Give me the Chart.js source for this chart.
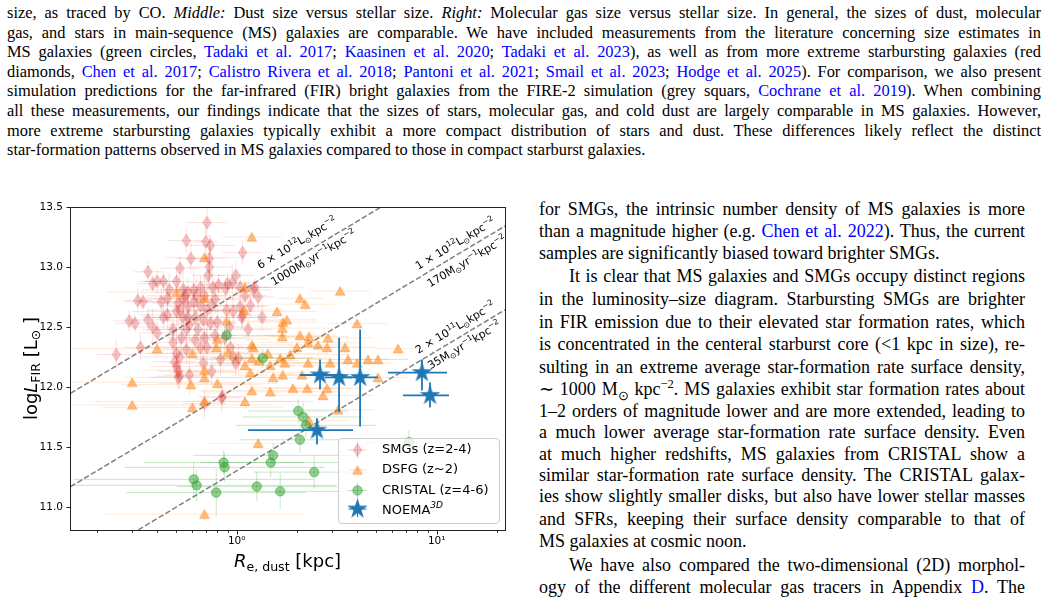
<!DOCTYPE html>
<html>
<head>
<meta charset="utf-8">
<script src="https://cdn.jsdelivr.net/npm/chart.js@4.4.1/dist/chart.umd.min.js"></script>
<style>
html, body { margin: 0; padding: 0; background: #fff; }
body { width: 1058px; height: 597px; overflow: hidden; position: relative; font-family: "Liberation Serif", "Times New Roman", serif; color: #000; }
.cap { position: absolute; left: 7px; width: 1034px; height: 20px; font-size: 16.4px; line-height: 20px; white-space: nowrap; text-align: justify; text-align-last: justify; }
.bd { position: absolute; left: 539px; width: 486px; height: 22px; font-size: 18px; line-height: 22px; white-space: nowrap; text-align: justify; text-align-last: justify; }
.last { text-align-last: left; }
.ind { text-indent: 30px; }
.l { color: #0000ff; }
sup, sub { font-size: 70%; line-height: 0; }
#wrap { position: absolute; left: 0; top: 195px; width: 515px; height: 402px; }
</style>
</head>
<body>
<div class="cap" style="top:3px">size, as traced by CO. <i>Middle:</i> Dust size versus stellar size. <i>Right:</i> Molecular gas size versus stellar size. In general, the sizes of dust, molecular</div>
<div class="cap" style="top:22.6px">gas, and stars in main-sequence (MS) galaxies are comparable. We have included measurements from the literature concerning size estimates in</div>
<div class="cap" style="top:42.2px">MS galaxies (green circles, <span class="l">Tadaki et al. 2017</span>; <span class="l">Kaasinen et al. 2020</span>; <span class="l">Tadaki et al. 2023</span>), as well as from more extreme starbursting galaxies (red</div>
<div class="cap" style="top:61.8px">diamonds, <span class="l">Chen et al. 2017</span>; <span class="l">Calistro Rivera et al. 2018</span>; <span class="l">Pantoni et al. 2021</span>; <span class="l">Smail et al. 2023</span>; <span class="l">Hodge et al. 2025</span>). For comparison, we also present</div>
<div class="cap" style="top:81.4px">simulation predictions for the far-infrared (FIR) bright galaxies from the FIRE-2 simulation (grey squars, <span class="l">Cochrane et al. 2019</span>). When combining</div>
<div class="cap" style="top:101px">all these measurements, our findings indicate that the sizes of stars, molecular gas, and cold dust are largely comparable in MS galaxies. However,</div>
<div class="cap" style="top:120.6px">more extreme starbursting galaxies typically exhibit a more compact distribution of stars and dust. These differences likely reflect the distinct</div>
<div class="cap last" style="top:140.2px">star-formation patterns observed in MS galaxies compared to those in compact starburst galaxies.</div>

<div class="bd" style="top:198px">for SMGs, the intrinsic number density of MS galaxies is more</div>
<div class="bd" style="top:219.5px">than a magnitude higher (e.g. <span class="l">Chen et al. 2022</span>). Thus, the current</div>
<div class="bd last" style="top:242.3px">samples are significantly biased toward brighter SMGs.</div>
<div class="bd ind" style="top:264.7px">It is clear that MS galaxies and SMGs occupy distinct regions</div>
<div class="bd" style="top:288px">in the luminosity–size diagram. Starbursting SMGs are brighter</div>
<div class="bd" style="top:310.7px">in FIR emission due to their elevated star formation rates, which</div>
<div class="bd" style="top:333px">is concentrated in the centeral starburst core (&lt;1 kpc in size), re-</div>
<div class="bd" style="top:355.7px">sulting in an extreme average star-formation rate surface density,</div>
<div class="bd" style="top:378px">∼ 1000 M<sub>⊙</sub> kpc<sup>−2</sup>. MS galaxies exhibit star formation rates about</div>
<div class="bd" style="top:399.7px">1–2 orders of magnitude lower and are more extended, leading to</div>
<div class="bd" style="top:421.3px">a much lower average star-formation rate surface density. Even</div>
<div class="bd" style="top:443px">at much higher redshifts, MS galaxies from CRISTAL show a</div>
<div class="bd" style="top:464px">similar star-formation rate surface density. The CRISTAL galax-</div>
<div class="bd" style="top:485.3px">ies show slightly smaller disks, but also have lower stellar masses</div>
<div class="bd" style="top:508px">and SFRs, keeping their surface density comparable to that of</div>
<div class="bd last" style="top:529.7px">MS galaxies at cosmic noon.</div>
<div class="bd ind" style="top:554px">We have also compared the two-dimensional (2D) morphol-</div>
<div class="bd" style="top:576.3px">ogy of the different molecular gas tracers in Appendix <span class="l">D</span>. The</div>

<div id="wrap"><canvas id="chart" width="515" height="402"></canvas></div>

<script>
// SMGs (z=2-4): size [kpc], log L_FIR, errors
const smgR = [0.71,0.56,0.70,0.74,0.59,0.73,1.07,0.36,0.52,0.38,
  0.43,0.40,0.73,0.72,0.81,0.90,0.99,1.23,0.32,0.34,
  0.42,0.29,0.31,0.36,0.25,1.28,0.46,0.50,0.54,0.57,
  0.61,0.66,0.76,0.88,0.95,1.04,0.45,0.51,0.54,0.57,
  0.61,0.66,0.71,0.75,0.89,0.96,1.04,1.07,0.38,0.40,
  0.45,0.50,0.54,0.57,0.62,0.68,0.74,0.80,0.92,1.06,
  0.33,0.48,0.50,0.52,0.56,0.66,0.71,0.93,0.96,1.02,
  0.49,0.50,0.68,0.85,0.52,0.63,0.55,0.69,0.78,0.58,
  0.64,0.78,0.48,0.53,0.69,0.58,0.51,0.75,0.83,1.14,
  0.43,0.62,0.87,0.56,1.17,0.69,0.51,0.52,0.84,0.99,
  1.21,1.10,1.34];
const smgL = [13.37,13.22,13.21,13.18,13.07,13.07,13.12,12.96,12.99,12.86,
  12.88,12.88,13.00,12.93,12.85,12.86,12.93,12.83,12.72,12.71,
  12.71,12.55,12.53,12.56,12.27,12.75,12.81,12.88,12.81,12.79,
  12.81,12.83,12.83,12.82,12.87,12.83,12.74,12.70,12.73,12.67,
  12.71,12.68,12.64,12.68,12.64,12.63,12.67,12.60,12.50,12.45,
  12.60,12.63,12.58,12.58,12.58,12.56,12.53,12.54,12.50,12.58,
  12.33,12.37,12.28,12.25,12.31,12.33,12.33,12.33,12.25,12.24,
  12.21,12.17,12.20,11.92,12.64,12.76,12.76,12.76,12.73,12.52,
  12.48,12.43,12.48,12.41,12.41,12.10,12.08,12.13,12.23,12.48,
  12.58,12.39,12.41,12.48,12.68,11.86,12.13,12.09,11.91,12.20,
  12.81,12.76,12.58];
const smgXErrDex = [0.10,0.09,0.06,0.12,0.08,0.08,0.10,0.07,0.10,0.08,
  0.10,0.09,0.11,0.08,0.09,0.12,0.09,0.11,0.07,0.09,
  0.12,0.08,0.10,0.12,0.10,0.08,0.14,0.16,0.10,0.17,
  0.11,0.16,0.10,0.14,0.09,0.15,0.12,0.13,0.18,0.09,
  0.13,0.20,0.10,0.12,0.12,0.10,0.13,0.08,0.11,0.09,
  0.14,0.22,0.15,0.10,0.25,0.11,0.13,0.09,0.10,0.11,
  0.08,0.11,0.15,0.20,0.12,0.14,0.25,0.11,0.08,0.12,
  0.11,0.13,0.18,0.12,0.16,0.10,0.19,0.11,0.12,0.10,
  0.10,0.11,0.09,0.12,0.15,0.13,0.14,0.12,0.13,0.12,
  0.11,0.12,0.11,0.22,0.10,0.11,0.10,0.12,0.10,0.11,
  0.09,0.11,0.08];
const smgYErr = [0.12,0.10,0.15,0.08,0.12,0.20,0.10,0.08,0.10,0.07,
  0.09,0.10,0.18,0.12,0.10,0.09,0.11,0.08,0.10,0.07,
  0.12,0.09,0.08,0.10,0.12,0.10,0.14,0.11,0.16,0.12,
  0.18,0.10,0.13,0.09,0.15,0.11,0.12,0.20,0.14,0.10,
  0.16,0.12,0.22,0.11,0.10,0.13,0.09,0.12,0.15,0.10,
  0.12,0.18,0.14,0.16,0.10,0.20,0.12,0.14,0.10,0.09,
  0.11,0.13,0.18,0.15,0.12,0.10,0.20,0.11,0.10,0.12,
  0.14,0.16,0.10,0.08,0.12,0.15,0.10,0.18,0.12,0.14,
  0.20,0.12,0.10,0.15,0.12,0.16,0.10,0.12,0.14,0.10,
  0.09,0.12,0.11,0.15,0.10,0.12,0.14,0.10,0.12,0.10,
  0.08,0.10,0.12];

// DSFG (z~2)
const dsfgR = [1.19,0.69,0.50,0.69,1.10,1.09,0.89,0.80,0.79,0.90,
  1.19,1.19,1.10,0.60,0.40,0.69,0.69,0.59,0.80,0.30,
  1.29,0.69,0.30,0.60,1.10,1.19,0.69,1.28,3.29,2.07,
  2.20,1.59,1.70,1.78,1.69,1.69,4.00,2.07,2.30,2.55,
  2.86,2.83,2.27,2.00,1.85,1.65,1.47,1.21,3.48,3.60,
  4.00,4.54,5.09,6.41,2.93,1.52,1.70,1.91,2.25,2.83,
  5.09,1.43,2.27,2.70,3.21,1.47,2.30,1.17,2.12,1.74];
const dsfgL = [13.25,13.08,12.79,12.74,12.83,12.64,12.55,12.40,12.33,12.29,
  12.35,12.24,12.18,12.28,12.32,12.14,12.08,12.02,12.03,12.04,
  12.22,11.88,11.85,11.83,11.88,11.97,10.94,11.53,12.80,12.74,
  12.69,12.63,12.54,12.56,12.49,12.42,12.53,12.43,12.42,12.35,
  12.41,12.33,12.37,12.33,12.27,12.24,12.18,12.33,12.33,12.23,
  12.20,12.23,12.23,12.32,12.20,12.08,12.10,11.99,11.99,11.99,
  12.08,12.28,12.20,11.93,11.81,11.96,11.72,12.12,12.10,12.20];
const dsfgXErrDex = [0.15,0.20,0.35,0.25,0.30,0.20,0.30,0.25,0.40,0.20,
  0.20,0.35,0.25,0.30,0.45,0.30,0.40,0.35,0.30,0.60,
  0.20,0.55,0.70,0.45,0.30,0.25,0.50,0.25,0.15,0.12,
  0.15,0.20,0.18,0.15,0.25,0.20,0.15,0.18,0.20,0.15,
  0.22,0.18,0.25,0.20,0.30,0.25,0.35,0.40,0.15,0.20,
  0.18,0.20,0.15,0.12,0.25,0.30,0.25,0.20,0.22,0.18,
  0.15,0.30,0.20,0.25,0.18,0.35,0.20,0.40,0.15,0.25];
const dsfgYErr = [0.04,0.05,0.03,0.04,0.05,0.04,0.03,0.05,0.04,0.03,
  0.05,0.04,0.03,0.04,0.05,0.04,0.03,0.04,0.05,0.03,
  0.04,0.05,0.03,0.04,0.04,0.05,0.06,0.04,0.03,0.04,
  0.05,0.04,0.03,0.04,0.05,0.04,0.03,0.04,0.05,0.03,
  0.04,0.05,0.03,0.04,0.05,0.04,0.03,0.04,0.05,0.04,
  0.03,0.04,0.05,0.04,0.03,0.04,0.05,0.04,0.03,0.04,
  0.05,0.04,0.03,0.04,0.05,0.04,0.05,0.04,0.03,0.04];

// CRISTAL (z=4-6)
const cristalR = [0.89,1.35,2.03,2.15,2.22,2.07,1.52,1.48,0.86,0.87,0.61,0.63,0.79,1.26,1.65,2.44,7.27];
const cristalL = [12.43,12.24,11.80,11.75,11.68,11.56,11.43,11.37,11.37,11.33,11.23,11.18,11.12,11.17,11.13,11.29,11.54];
const cristalXErrDex = [0.30,0.25,0.25,0.30,0.35,0.30,0.40,0.35,0.40,0.50,0.60,0.70,0.45,0.40,0.35,0.30,0.20];
const cristalYErr = [0.10,0.08,0.10,0.12,0.10,0.11,0.10,0.12,0.10,0.12,0.15,0.13,0.20,0.12,0.15,0.14,0.10];

// NOEMA-3D
const noemaR = [2.61,3.25,4.14,8.44,9.26,2.52];
const noemaL = [12.10,12.08,12.08,12.12,11.93,11.64];
const noemaXLow = [2.07,2.76,3.48,5.71,6.79,1.14];
const noemaXHigh = [3.42,3.77,5.09,11.26,11.52,3.82];
const noemaYLow = [11.98,11.79,11.67,11.97,11.83,11.52];
const noemaYHigh = [12.23,12.41,12.48,12.23,12.04,11.74];

// constant surface density lines
const lumDensity = [6e12, 1e12, 2e11];
const sfrDensity = [1000, 170, 35];

// ticks
const xTickValues = [0.2,0.3,0.4,0.5,0.6,0.7,0.8,0.9,1,2,3,4,5,6,7,8,9,10,20];
const xTickMajor = [1, 10];
const yTickValues = [11.0, 11.5, 12.0, 12.5, 13.0, 13.5];

const FONT = 'DejaVu Sans';

function markerCanvas(w, h, draw) {
  const c = document.createElement('canvas');
  c.width = w; c.height = h;
  draw(c.getContext('2d'));
  return c;
}
const diamondImg = markerCanvas(11, 15, g => {
  g.beginPath();
  g.moveTo(5.5, 1.2); g.lineTo(9.6, 7.5); g.lineTo(5.5, 13.8); g.lineTo(1.4, 7.5); g.closePath();
  g.fillStyle = 'rgba(214,39,40,0.26)'; g.fill();
  g.strokeStyle = 'rgba(214,39,40,0.26)'; g.lineWidth = 1; g.stroke();
});
const triangleImg = markerCanvas(12, 11, g => {
  g.beginPath();
  g.moveTo(6, 1.3); g.lineTo(10.8, 9.7); g.lineTo(1.2, 9.7); g.closePath();
  g.fillStyle = 'rgba(255,127,14,0.5)'; g.fill();
  g.strokeStyle = 'rgba(255,127,14,0.5)'; g.lineWidth = 1; g.stroke();
});
const starImg = markerCanvas(25, 25, g => {
  g.beginPath();
  for (let k = 0; k < 10; k++) {
    const r = k % 2 ? 4.1 : 10.8;
    const a = -Math.PI / 2 + k * Math.PI / 5;
    g.lineTo(12.5 + r * Math.cos(a), 12.5 + r * Math.sin(a));
  }
  g.closePath();
  g.fillStyle = '#1f77b4'; g.fill();
});

function pts(xs, ys) { return xs.map((v, i) => ({ x: v, y: ys[i] })); }
function dexErrors(xs, ys, xe, ye) {
  return xs.map((v, i) => ({ xLo: v / Math.pow(10, xe[i]), xHi: v * Math.pow(10, xe[i]), yLo: ys[i] - ye[i], yHi: ys[i] + ye[i] }));
}

const lineDatasets = lumDensity.map(s => ({
  type: 'line',
  data: [{ x: 0.1, y: Math.log10(s * 0.1) }, { x: 30, y: Math.log10(s * 30) }],
  borderColor: '#808080', borderWidth: 1.5, borderDash: [5.5, 2.4],
  pointRadius: 0, fill: false, order: 10, clip: 0
}));

const datasets = [
  { label: 'NOEMA', data: pts(noemaR, noemaL), pointStyle: starImg, order: 0,
    errors: noemaR.map((v, i) => ({ xLo: noemaXLow[i], xHi: noemaXHigh[i], yLo: noemaYLow[i], yHi: noemaYHigh[i] })),
    errColor: '#1f77b4', errWidth: 1.8 },
  { label: 'CRISTAL', data: pts(cristalR, cristalL), pointStyle: 'circle', pointRadius: 4.7,
    backgroundColor: 'rgba(44,160,44,0.5)', borderColor: 'rgba(44,160,44,0.5)', borderWidth: 1, order: 1,
    errors: dexErrors(cristalR, cristalL, cristalXErrDex, cristalYErr), errColor: 'rgba(44,160,44,0.25)', errWidth: 1 },
  { label: 'DSFG', data: pts(dsfgR, dsfgL), pointStyle: triangleImg, order: 2,
    errors: dexErrors(dsfgR, dsfgL, dsfgXErrDex, dsfgYErr), errColor: 'rgba(255,127,14,0.16)', errWidth: 1 },
  { label: 'SMG', data: pts(smgR, smgL), pointStyle: diamondImg, order: 3,
    errors: dexErrors(smgR, smgL, smgXErrDex, smgYErr), errColor: 'rgba(214,39,40,0.14)', errWidth: 1 },
  ...lineDatasets
];

function drawRich(ctx, parts, size, x, y) {
  let cx = x;
  parts.forEach(([txt, kind, style]) => {
    const s = kind === 'n' ? size : size * 0.7;
    const dy = kind === 'sub' ? size * 0.22 : kind === 'sup' ? -size * 0.42 : 0;
    ctx.font = (style || '') + ' ' + s + 'px "' + FONT + '"';
    ctx.fillText(txt, cx, y + dy);
    cx += ctx.measureText(txt).width;
  });
  return cx - x;
}
function richWidth(ctx, parts, size) {
  let w = 0;
  parts.forEach(([txt, kind, style]) => {
    const s = kind === 'n' ? size : size * 0.7;
    ctx.font = (style || '') + ' ' + s + 'px "' + FONT + '"';
    w += ctx.measureText(txt).width;
  });
  return w;
}

const lumParts = s => [[s + ' × 10', 'n'], [s === '2' ? '11' : '12', 'sup'], ['L', 'n'], ['⊙', 'sub'], ['kpc', 'n'], ['−2', 'sup']];
const sfrParts = v => [[v + 'M', 'n'], ['⊙', 'sub'], ['yr', 'n'], ['−1', 'sup'], ['kpc', 'n'], ['−2', 'sup']];
const lineLabels = [
  { line: 0, R: 1.995, L: 13.204, parts: lumParts('6') },
  { line: 0, R: 2.415, L: 13.081, parts: sfrParts(sfrDensity[0]) },
  { line: 1, R: 12.35, L: 13.197, parts: lumParts('1') },
  { line: 1, R: 14.09, L: 13.05, parts: sfrParts(sfrDensity[1]) },
  { line: 2, R: 12.35, L: 12.497, parts: lumParts('2') },
  { line: 2, R: 13.69, L: 12.352, parts: sfrParts(sfrDensity[2]) }
];

const errorBars = {
  id: 'errorBars',
  beforeDatasetDraw(chart, args) {
    const ds = chart.data.datasets[args.index];
    if (!ds.errors) return;
    const { ctx, chartArea: a, scales: { x, y } } = chart;
    ctx.save();
    ctx.beginPath(); ctx.rect(a.left, a.top, a.width, a.height); ctx.clip();
    ctx.strokeStyle = ds.errColor; ctx.lineWidth = ds.errWidth;
    ds.errors.forEach((e, i) => {
      const px = x.getPixelForValue(ds.data[i].x), py = y.getPixelForValue(ds.data[i].y);
      ctx.beginPath();
      ctx.moveTo(Math.max(x.getPixelForValue(e.xLo), a.left - 5), py);
      ctx.lineTo(Math.min(x.getPixelForValue(e.xHi), a.right + 5), py);
      ctx.stroke();
      ctx.beginPath();
      ctx.moveTo(px, y.getPixelForValue(e.yLo));
      ctx.lineTo(px, y.getPixelForValue(e.yHi));
      ctx.stroke();
    });
    ctx.restore();
  }
};

const decor = {
  id: 'decor',
  afterDraw(chart) {
    const { ctx, chartArea: a, scales: { x, y } } = chart;
    ctx.save();
    // frame
    ctx.strokeStyle = '#222'; ctx.lineWidth = 1;
    ctx.strokeRect(Math.round(a.left) + 0.5, Math.round(a.top) + 0.5, Math.round(a.width), Math.round(a.height));
    // tick marks
    ctx.beginPath();
    xTickValues.forEach(v => {
      const px = Math.round(x.getPixelForValue(v)) + 0.5;
      const len = xTickMajor.includes(v) ? 4 : 2.2;
      ctx.moveTo(px, a.bottom + 0.5); ctx.lineTo(px, a.bottom + 0.5 + len);
    });
    yTickValues.forEach(v => {
      const py = Math.round(y.getPixelForValue(v)) + 0.5;
      ctx.moveTo(a.left + 0.5, py); ctx.lineTo(a.left + 0.5 - 4, py);
    });
    ctx.stroke();

    // axis titles
    ctx.fillStyle = '#000'; ctx.textBaseline = 'alphabetic';
    const xt = [['R', 'n', 'italic'], ['e, dust', 'sub'], [' [kpc]', 'n']];
    const xw = richWidth(ctx, xt, 18);
    drawRich(ctx, xt, 18, (a.left + a.right) / 2 - xw / 2, a.bottom + 37);
    const yt = [['log', 'n'], ['L', 'n', 'italic'], ['FIR', 'sub'], [' [L', 'n'], ['⊙', 'sub'], [' ]', 'n']];
    const yw = richWidth(ctx, yt, 18);
    ctx.save();
    ctx.translate(36.5, (a.top + a.bottom) / 2);
    ctx.rotate(-Math.PI / 2);
    drawRich(ctx, yt, 18, -yw / 2, 0);
    ctx.restore();

    // labels along the density lines
    ctx.save();
    ctx.beginPath(); ctx.rect(a.left, a.top, a.width, a.height); ctx.clip();
    ctx.fillStyle = '#000';
    lineLabels.forEach(lb => {
      const s = lumDensity[lb.line];
      const x1 = x.getPixelForValue(1), y1 = y.getPixelForValue(Math.log10(s));
      const x2 = x.getPixelForValue(10), y2 = y.getPixelForValue(Math.log10(s * 10));
      const ang = Math.atan2(y2 - y1, x2 - x1);
      const w = richWidth(ctx, lb.parts, 11);
      ctx.save();
      ctx.translate(x.getPixelForValue(lb.R), y.getPixelForValue(lb.L));
      ctx.rotate(ang);
      drawRich(ctx, lb.parts, 11, -w / 2, 4);
      ctx.restore();
    });
    ctx.restore();

    // legend
    const bx = a.right - 167, by = a.bottom - 92, bw = 161, bh = 85;
    ctx.beginPath();
    ctx.roundRect(bx + 0.5, by + 0.5, bw, bh, 3.5);
    ctx.fillStyle = 'rgba(255,255,255,0.8)'; ctx.fill();
    ctx.strokeStyle = '#cccccc'; ctx.lineWidth = 1; ctx.stroke();
    const mx = bx + 19.5, tx = bx + 44;
    const rows = [by + 12, by + 32, by + 52.5, by + 71];
    const cross = (cy, col, hx, hy) => {
      ctx.strokeStyle = col; ctx.lineWidth = 1;
      ctx.beginPath();
      ctx.moveTo(mx - hx, cy); ctx.lineTo(mx + hx, cy);
      ctx.moveTo(mx, cy - hy); ctx.lineTo(mx, cy + hy);
      ctx.stroke();
    };
    cross(rows[0], 'rgba(214,39,40,0.25)', 9, 8);
    ctx.drawImage(diamondImg, mx - 5.5, rows[0] - 7.5);
    cross(rows[1], 'rgba(255,127,14,0.25)', 9, 3);
    ctx.drawImage(triangleImg, mx - 6, rows[1] - 5.5);
    cross(rows[2], 'rgba(44,160,44,0.35)', 9, 8);
    ctx.beginPath(); ctx.arc(mx, rows[2], 4.7, 0, Math.PI * 2);
    ctx.fillStyle = 'rgba(44,160,44,0.5)'; ctx.fill();
    ctx.strokeStyle = 'rgba(44,160,44,0.5)'; ctx.stroke();
    cross(rows[3], '#1f77b4', 9, 8);
    ctx.drawImage(starImg, mx - 12.5, rows[3] - 12.5);

    ctx.fillStyle = '#000'; ctx.textBaseline = 'middle';
    ctx.font = '13px "' + FONT + '"';
    ctx.fillText('SMGs (z=2-4)', tx, rows[0]);
    ctx.fillText('DSFG (z~2)', tx, rows[1]);
    ctx.fillText('CRISTAL (z=4-6)', tx, rows[2]);
    ctx.textBaseline = 'alphabetic';
    drawRich(ctx, [['NOEMA', 'n'], ['3D', 'sup', 'italic']], 13, tx, rows[3] + 4.7);
    ctx.restore();
  }
};

new Chart(document.getElementById('chart'), {
  type: 'scatter',
  data: { datasets: datasets },
  options: {
    responsive: false,
    animation: false,
    devicePixelRatio: 1,
    layout: { padding: { left: 0, top: 12, right: 10, bottom: 0 } },
    plugins: { legend: { display: false }, tooltip: { enabled: false } },
    scales: {
      x: {
        type: 'logarithmic', min: 0.1467, max: 21.96,
        afterBuildTicks: s => { s.ticks = xTickValues.map(v => ({ value: v })); },
        afterFit: s => { s.height = 67; },
        grid: { display: false, drawTicks: true, tickLength: 4 },
        border: { display: false },
        ticks: {
          autoSkip: false, maxRotation: 0, minRotation: 0, padding: 1, color: '#000',
          font: { family: FONT, size: 10.5 },
          callback: v => (v === 1 ? '10⁰' : v === 10 ? '10¹' : '')
        }
      },
      y: {
        min: 10.808, max: 13.5,
        afterBuildTicks: s => { s.ticks = yTickValues.map(v => ({ value: v })); },
        afterFit: s => { s.width = 70; },
        grid: { display: false, drawTicks: true, tickLength: 4 },
        border: { display: false },
        ticks: {
          padding: 3, color: '#000',
          font: { family: FONT, size: 10.5 },
          callback: v => v.toFixed(1)
        }
      }
    }
  },
  plugins: [errorBars, decor]
});
</script>
</body>
</html>
